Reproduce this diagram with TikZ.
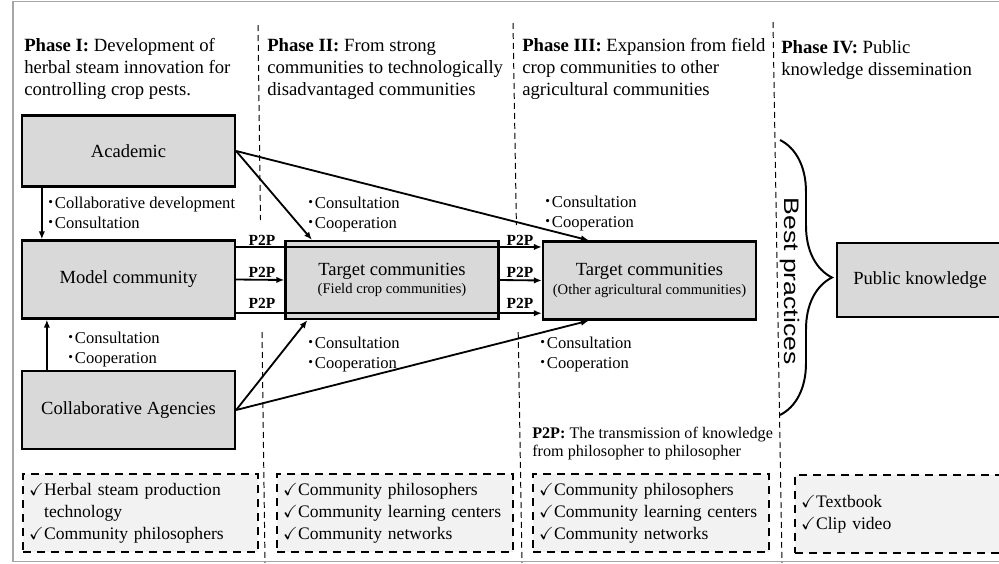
\documentclass[tikz,border=0pt]{standalone}
\usepackage{fontspec}
\setmainfont{Liberation Serif}
\newfontfamily\bpfont{Liberation Sans}
\usepackage{amssymb}
\usetikzlibrary{arrows.meta,decorations.pathreplacing}
\definecolor{boxgray}{HTML}{D9D9D9}
\definecolor{notegray}{HTML}{F2F2F2}
\definecolor{framegray}{HTML}{A6A6A6}
\newcommand{\ck}{\makebox[3.75mm][l]{$\checkmark$}}
\newcommand{\bt}{\raisebox{0.15ex}{\fontsize{9.5}{9.5}\selectfont\textbullet}\hspace{0.5mm}}
\tikzset{
  actor/.style={draw=black, fill=boxgray, line width=1.6pt, minimum width=53.25mm, minimum height=19.5mm, align=center, inner sep=0pt, font=\fontsize{13.2}{15}\selectfont},
  note/.style={draw=black, fill=notegray, line width=1.6pt, dash pattern=on 2mm off 1.5mm, anchor=north west, minimum height=19.5mm, align=left, inner xsep=1.5mm, inner ysep=0pt, font=\fontsize{12.5}{15.6}\selectfont},
  phase/.style={anchor=base west, align=left, inner sep=0pt, font=\fontsize{13.3}{15.6}\selectfont},
  bul/.style={anchor=base west, align=left, inner sep=0pt, font=\fontsize{11.8}{14.2}\selectfont},
  ptp/.style={inner sep=0pt, font=\fontsize{11}{13}\selectfont\bfseries},
  arr/.style={-{Latex[length=2mm,width=1.6mm]}, line width=1.3pt},
  sep/.style={line width=0.7pt, dash pattern=on 1.5mm off 1mm}
}
\begin{document}
\begin{tikzpicture}[x=0.25mm,y=-0.25mm]
\useasboundingbox (0,0) rectangle (999,563);
\clip (0,0) rectangle (999,563);
% ---- frame and phase separators ----
\draw[framegray, line width=1.1pt] (999,1.5) -- (13,1.5) -- (13,561.5) -- (999,561.5);
\draw[sep] (258,25) -- (260.5,220);
\draw[sep] (262,332) -- (265,563);
\draw[sep] (513,23) -- (516.4,225);
\draw[sep] (518.2,332) -- (522,563);
\draw[sep] (773,22) -- (782,563);
% ---- phase headings (anchored on last baseline) ----
\node[phase] (phI) at (24,95) {\textbf{Phase I:} Development of\\herbal steam innovation for\\controlling crop pests.};
\node[phase] (phII) at (267,95) {\textbf{Phase II:} From strong\\communities to technologically\\disadvantaged communities};
\node[phase] (phIII) at (522,95) {\textbf{Phase III:} Expansion from field\\crop communities to other\\agricultural communities};
\node[phase] (phIV) at (781,75) {\textbf{Phase IV:} Public\\knowledge dissemination};
% ---- actors ----
\node[actor, minimum height=17.75mm] (academic) at (128.5,151) {Academic};
\node[actor] (model) at (128.5,279.5) {Model community};
\node[actor] (agencies) at (128.5,410) {Collaborative Agencies};
\node[actor] (fieldcrop) at (392,280) {Target communities\\[-2pt]{\fontsize{10.4}{12}\selectfont(Field crop communities)}};
\node[actor] (otheragri) at (649.5,280.5) {Target communities\\[-2pt]{\fontsize{10.4}{12}\selectfont(Other agricultural communities)}};
\node[actor, minimum width=41.5mm, minimum height=18.5mm] (public) at (920,280) {Public knowledge};
% ---- links ----
\draw[arr] ([xshift=5.25mm]academic.south west) -- ([xshift=5.25mm]model.north west);
\draw[arr] ([xshift=6.5mm]agencies.north west) -- ([xshift=6.5mm]model.south west);
\draw[arr] (academic.east) -- ([xshift=6.9mm]fieldcrop.north west);
\draw[arr] (academic.east) -- ([xshift=11.75mm]otheragri.north west);
\draw[arr] (agencies.east) -- ([xshift=5.75mm]fieldcrop.south west);
\draw[arr] (agencies.east) -- ([xshift=11.75mm]otheragri.south west);
\draw[arr] ([yshift=-1.9mm]model.north east) -- ([yshift=-1.9mm]model.north east -| otheragri.west);
\draw[arr] (model.east) -- (fieldcrop.west);
\draw[arr] (fieldcrop.east) -- (otheragri.west);
\draw[arr] ([yshift=1.6mm]model.south east) -- ([yshift=1.6mm]model.south east -| otheragri.west);
\foreach \y/\n in {240/a,272/b,303/c} {
  \node[ptp] (ptpl\n) at (262,\y) {P2P};
  \node[ptp] (ptpr\n) at (520,\y) {P2P};
}
% ---- link labels ----
\node[bul] (lbacad) at (48,228) {\bt Collaborative development\\\bt Consultation};
\node[bul] (lbagen) at (68,363) {\bt Consultation\\\bt Cooperation};
\node[bul] (lbfcup) at (308,228) {\bt Consultation\\\bt Cooperation};
\node[bul] (lbfcdn) at (308,368) {\bt Consultation\\\bt Cooperation};
\node[bul] (lboaup) at (545,227) {\bt Consultation\\\bt Cooperation};
\node[bul] (lboadn) at (540,368) {\bt Consultation\\\bt Cooperation};
\node[bul, font=\fontsize{11.5}{12.8}\selectfont] (ptpnote) at (532,456) {\textbf{P2P:} The transmission of knowledge\\from philosopher to philosopher};
% ---- best practices ----
\coordinate (bptop) at (780,140);
\coordinate (bpbot) at (780,415);
\draw[line width=1.4pt, decorate, decoration={brace, amplitude=13mm}] (bptop) -- (bpbot);
\node[rotate=-90, inner sep=0pt, font=\bpfont\fontsize{14.9}{16}\selectfont] (bestpr) at (790,281) {\scalebox{1.27}[1]{Best practices}};
% ---- resources ----
\node[note, text width=55.75mm] (resI) at (22,473) {\ck Herbal steam production\\\hspace*{3.75mm}technology\\\ck Community philosophers};
\node[note, text width=56mm] (resII) at (276,473) {\ck Community philosophers\\\ck Community learning centers\\\ck Community networks};
\node[note, text width=56mm] (resIII) at (532,473) {\ck Community philosophers\\\ck Community learning centers\\\ck Community networks};
\node[note, text width=50mm] (resIV) at (794,474) {\ck Textbook\\\ck Clip video};
\end{tikzpicture}
\end{document}
